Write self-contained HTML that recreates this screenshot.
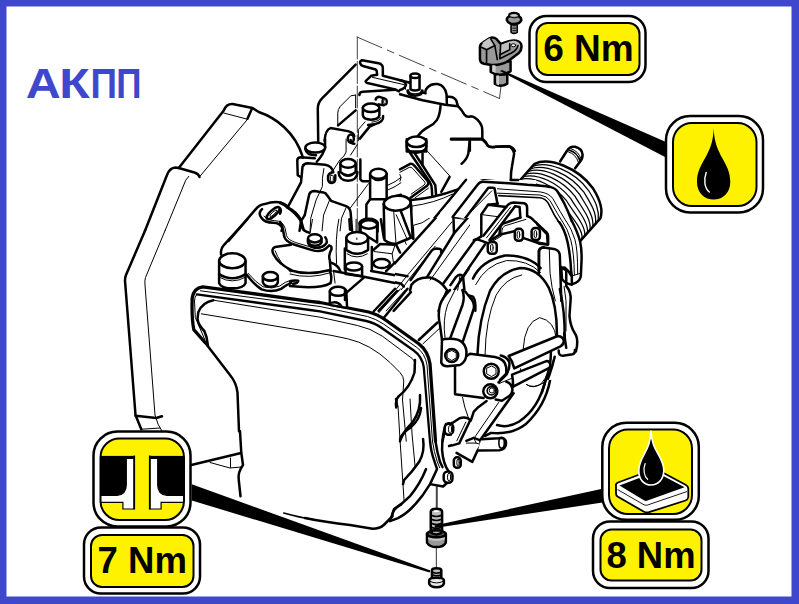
<!DOCTYPE html>
<html><head><meta charset="utf-8"><title>АКПП</title>
<style>
html,body{margin:0;padding:0;background:#3f48cc;}
body{width:799px;height:604px;overflow:hidden;font-family:"Liberation Sans",sans-serif;}
svg{display:block;position:absolute;left:0;top:0;}
.t{font-family:"Liberation Sans",sans-serif;font-weight:bold;}
#drawing path,#drawing ellipse,#drawing line,#drawing rect,#drawing circle,#drawing polyline,#drawing polygon{vector-effect:non-scaling-stroke;}
.k{stroke-width:2.5;}
.m{stroke-width:1.6;}
.n{stroke-width:1;}
.w{fill:#fff;}
.g{fill:#999;}
</style></head><body>
<svg width="799" height="604" viewBox="0 0 799 604">
<rect x="0" y="0" width="799" height="604" fill="#3f48cc"/>
<rect x="6.5" y="6.5" width="785" height="590" fill="#fff"/>
<text class="t" font-size="43" fill="#3f48cc" y="97.7"><tspan x="25.8" textLength="35" lengthAdjust="spacingAndGlyphs">А</tspan><tspan x="59.3" textLength="30.5" lengthAdjust="spacingAndGlyphs">К</tspan><tspan x="90.5" textLength="26.5" lengthAdjust="spacingAndGlyphs">П</tspan><tspan x="116.2" textLength="25.2" lengthAdjust="spacingAndGlyphs">П</tspan></text>

<!-- DRAWING -->
<g id="drawing" fill="none" stroke="#000" stroke-linecap="round" stroke-linejoin="round">
<!-- tiles/00_a_defs.svg -->
<defs>
<clipPath id="clipA"><path clip-rule="evenodd" d="M-100,-100 H900 V700 H-100 Z M395,218 L440,218 L440,213 L469,180 L536.1,180 L536.1,270 L470,270 L470,290 L395,290 Z"/></clipPath>
<clipPath id="clipB"><path clip-rule="evenodd" d="M-100,-100 H900 V700 H-100 Z M395,218 H470 V290 H395 Z"/></clipPath>
<clipPath id="clipBin"><rect x="395" y="218" width="75" height="72"/></clipPath>
<clipPath id="clipC"><path clip-rule="evenodd" d="M-100,-100 H900 V700 H-100 Z M452,380 H565 V472 H452 Z"/></clipPath>
<clipPath id="clipCin"><rect x="452" y="380" width="113" height="92"/></clipPath>
</defs>

<!-- tiles/00_dash.svg -->
<g class="n" stroke="#444">
<path d="M357.3,37 L357.3,240" stroke-dasharray="22 2.5 "/>
<path d="M357,37 L499.5,98.5" stroke-dasharray="27 6 7 6"/>
<path d="M499.5,98.5 L501,86"/>
</g>

<!-- tiles/00_rim.svg -->
<g id="rim">
<path class="k" style="stroke-width:3.3" d="M205,342.5 L193.8,329.6 Q191.5,318 192.2,298 Q193.5,288 202.8,286.8 L310,301.3 L320,302.5 L368.75,312 Q378,314.5 386.25,320.5 L418.75,343.75 Q428,351 430,363.75 L435.5,441.25"/>
<path class="n" d="M200.5,290.8 L310,305.2 L320,306.5 L367.5,316.5 Q376,319 383.5,324 L416.25,347 Q425,353 427,365 L432.5,441.25"/>
<path class="k" style="stroke-width:2.3" d="M196.8,294.3 L310,310 L320,311.4 L366.25,321 Q375,323 382.5,328.5 L413.75,350.5 Q422,356.5 423.75,367 L430,441.25"/>
<path class="n" d="M196.8,294.3 Q194.5,297 194.5,301 L195.3,317.5 L205,340"/>
<path class="n" d="M214,300.3 L310,315.6 L320,317.2 L357.5,325.5 Q370,328 382.5,336.25 L412.5,358.75 Q416.5,362.5 415,370"/>
<path class="k" d="M213.3,300.3 Q202,302.5 198.3,312.3 L197.5,319 Q198.3,325 204.3,331 L206.5,337 L208,346"/>
<path class="n" d="M201.3,313.8 L310,331.8 L331,335.3 L347.5,338.75 Q370,343.75 390,362.5 L400,372.5 Q403.75,376.25 403.75,381.25 L402.5,400 L406.25,441.25"/>
</g>

<!-- tiles/01_bell_top.svg -->
<g transform="translate(130,80) scale(0.25)">
<!-- bellhousing outer -->
<path class="k" d="M60,603 L148,380 Q158,352 182,350 L195,352 L375,122 Q385,95 410,96 L490,112 L515,128 C580,150 660,205 692,310"/>
<path class="k" d="M195,352 L258,370 Q275,376 278,388"/>
<path class="k" d="M488,114 L470,155"/>
<path class="n" d="M375,132 L470,157 L280,385"/>
<path class="n" d="M235,385 Q220,400 215,420 L140,603"/>
</g>

<!-- tiles/02.svg -->
<g transform="translate(290,50) scale(0.1502)">
<path class="k" d="M437,97 L215,320 Q185,350 185,390 L188,610"/>
<path class="k" d="M480,68 L590,88 Q618,95 618,120 L618,172 L799,218"/>
<path class="k" d="M480,68 Q462,72 468,90 Q470,102 485,106 L565,128 Q578,132 578,145 L580,165 L540,172 L505,205 Q500,215 515,220 L700,262 L725,275"/>
<path class="n" d="M548,182 L765,232 L770,262"/>
<path class="k" d="M462,300 Q462,280 485,278 L700,264"/>
<path class="n" d="M437,300 L405,305 L335,375 Q318,395 318,420 L318,500"/>
<path class="n" d="M437,300 L437,385"/>
<path class="k" d="M437,402 L320,502"/>
<!-- boss -->
<path class="k w" d="M485,385 L485,435 Q490,462 540,465 Q590,462 595,435 L595,385"/>
<ellipse class="k w" cx="540" cy="385" rx="55" ry="28"/>
<path class="k" d="M620,440 Q625,480 560,495 L520,500"/>
<path class="n" d="M605,450 Q600,475 545,480"/>
<!-- small bolt -->
<path class="k" d="M570,330 Q575,312 595,312 L628,322"/>
<path class="k" d="M590,362 L625,368"/>
<ellipse class="m w" cx="630" cy="345" rx="17" ry="22"/>
<ellipse class="n" cx="632" cy="345" rx="9" ry="15"/>
<path class="n" d="M500,478 L455,530 L455,605"/>
<path class="k" d="M560,497 L530,510 L465,590"/>
<!-- lug -->
<path class="k" d="M230,605 Q235,530 270,520 L385,540 Q425,548 428,575"/>
<ellipse class="k" cx="405" cy="590" rx="20" ry="28"/>
</g>

<!-- tiles/03.svg -->
<g transform="translate(400,60) scale(0.1502)">
<path class="k" d="M0,135 Q35,140 40,165 Q35,190 0,200"/>
<path class="k" d="M0,228 L150,268 L300,298 L385,308"/>
<!-- pin -->
<path class="k" d="M50,205 Q50,235 100,238 Q150,235 150,205"/>
<path class="m" d="M55,200 Q60,225 100,226 Q140,225 145,200"/>
<path class="k w" d="M70,105 L70,195 Q100,210 130,195 L130,105"/>
<ellipse class="k w" cx="100" cy="105" rx="30" ry="15"/>
<path class="k" d="M145,215 L170,222 Q165,200 185,180 Q210,155 250,160 Q300,170 310,230 L312,298"/>
<path class="k" d="M318,245 Q355,240 375,270 L385,305 Q410,330 430,365 Q445,385 470,375 Q500,375 530,415 Q550,440 548,480 L548,525 Q575,545 585,570 Q600,585 640,578 L720,575 Q745,575 765,605"/>
<path class="k" d="M340,525 L548,525"/>
<path class="k" d="M465,530 L465,605"/>
<path class="k" d="M270,305 Q265,370 245,400 Q225,430 190,445 Q150,465 120,505"/>
<path class="k w" d="M45,545 L45,610 L175,610 L175,545"/>
<ellipse class="k w" cx="110" cy="545" rx="65" ry="35"/>
</g>

<!-- tiles/04_sensor.svg -->
<g transform="translate(470,5) scale(0.1656)">
<!-- bolt -->
<path class="m g" d="M248,105 L248,165 Q265,178 285,165 L285,105 Z"/>
<path class="k g" d="M222,90 Q222,75 235,70 L240,55 Q265,42 292,55 L297,70 Q310,75 310,92 Q300,115 265,115 Q230,115 222,90 Z"/>
<path d="M238,62 Q265,50 292,62 Q265,74 238,62 Z" fill="#d0d0d0" stroke="none"/>
<path class="n" d="M240,72 Q265,85 295,72"/>
<path class="n" d="M258,125 L275,125 M258,140 L275,140 M258,155 L275,155"/>
<!-- sensor -->
<path class="k g" d="M150,420 L150,475 Q185,500 225,475 L225,420 Z"/>
<path class="k g" d="M125,350 L125,405 Q180,440 245,400 L245,340 Z"/>
<path class="k g" d="M60,255 Q60,235 80,225 L120,200 Q140,190 160,205 L185,235 L235,218 Q290,205 308,235 Q318,265 295,290 L235,335 Q190,365 130,362 L85,355 Q60,350 60,325 Z"/>
<path d="M68,252 L100,270 L150,245 L128,202 Q118,198 108,205 L80,225 Z" fill="#c4c4c4" stroke="none"/>
<path d="M188,240 L238,220 Q285,208 302,238 Q306,255 290,262 Q285,240 240,237 L240,270 L182,298 Z" fill="#bdbdbd" stroke="none"/>
<path d="M160,425 L175,425 L175,485 L160,480 Z M135,362 L155,365 L155,410 L135,402 Z" fill="#cfcfcf" stroke="none"/>
<path class="m" d="M70,255 L100,270 L150,245 L125,205"/>
<path class="m" d="M100,270 L100,350"/>
<path class="m" d="M150,245 L165,330"/>
<path class="m" d="M185,240 L180,325 L250,290 Q285,270 290,245"/>
<path class="m" d="M180,300 L240,270 L240,235"/>
<ellipse class="n w" cx="262" cy="243" rx="14" ry="9"/>
</g>

<!-- tiles/05.svg -->
<g clip-path="url(#clipB)">
<g transform="translate(280,140) scale(0.1502)">
<!-- top-left boss -->
<path class="k" d="M300,-5 L300,50 Q290,95 245,145"/>
<path class="k" d="M168,58 Q175,100 240,102"/>
<ellipse class="k w" cx="235" cy="50" rx="66" ry="33"/>
<!-- small block -->
<path class="k" d="M232,122 L135,115 Q115,118 115,138 L118,235 L140,248"/>
<path class="n" d="M150,165 L146,240"/>
<!-- bracket -->
<path class="k" d="M50,450 L140,282 L150,178 Q160,155 185,155 L300,165 Q345,172 355,215 Q330,215 320,240 L320,265 Q325,290 350,285 Q370,280 368,255 L368,235"/>
<rect class="n" x="335" y="235" width="20" height="40" rx="6"/>
<path class="n" d="M292,190 Q278,260 282,310 L240,400 L205,520 L200,605"/>
<path class="n" d="M330,400 L290,500 L280,605"/>
<path class="n" d="M440,450 L410,520 L400,605"/>
<path class="k" d="M165,500 L195,360 Q205,340 230,340 L290,350 Q305,352 315,370 L340,405 L440,440 Q465,450 470,480 L480,605"/>
<path class="k" d="M0,420 Q30,430 50,450 Q100,480 140,540 L165,500"/>
<path class="k" d="M140,540 L130,605"/>
<path class="k" d="M0,455 Q12,470 0,490"/>
<path class="k" d="M0,545 Q25,570 10,605"/>
<!-- center cylinder -->
<path class="n" d="M440,-5 L440,80 Q430,110 400,130 L355,200"/>
<path class="n" d="M515,30 L470,100"/>
<path class="k" d="M470,0 Q470,25 495,25"/>
<path class="k" d="M390,215 Q392,268 453,272 Q514,268 516,215"/>
<path class="k w" d="M402,156 L402,212 Q453,262 504,212 L504,156"/>
<ellipse class="k w" cx="453" cy="156" rx="51" ry="29"/>
<path class="k" d="M535,130 L535,260 Q540,275 560,275 L600,275"/>
<!-- right cylinder -->
<path class="k w" d="M600,225 L600,395 L710,395 L710,225"/>
<ellipse class="k w" cx="655" cy="225" rx="55" ry="33"/>
<path class="m" d="M610,250 Q650,285 700,255"/>
<path class="k" d="M600,395 L575,430 L575,530"/>
<path class="n" d="M590,290 L470,450"/>
<path class="n" d="M720,300 Q770,280 805,250"/>
<path class="n" d="M720,332 Q770,312 805,285"/>
<path class="k" d="M700,425 Q740,380 805,365"/>
<path class="n" d="M700,425 L700,605"/>
<path class="n" d="M760,480 L785,570"/>
<!-- bottom cylinder -->
<path class="k w" d="M530,555 L530,610 L650,610 L650,555"/>
<ellipse class="k w" cx="590" cy="555" rx="60" ry="30"/>
</g>
</g>

<!-- tiles/06.svg -->
<g clip-path="url(#clipA)">
<g transform="translate(400,140) scale(0.1502)">
<path class="k" d="M45,-5 L45,50 Q60,85 110,85 Q160,80 175,50 L175,-5"/>
<path class="m" d="M55,28 Q100,65 165,28"/>
<path class="k" d="M62,78 L195,275 Q212,300 212,330 L215,375"/>
<path class="k" d="M100,92 L150,168 L150,90"/>
<path class="k" d="M150,168 L235,300 L240,365"/>
<path class="n" d="M178,70 L330,238"/>
<path class="k" d="M330,245 L275,345"/>
<path class="k" d="M0,195 L65,160 Q80,155 95,170 L185,275 Q195,290 180,305 L70,385"/>
<path class="n" d="M0,215 L62,182 Q75,178 85,190 L165,280 Q172,290 160,300 L75,360"/>
<path class="n" d="M0,230 Q15,250 0,275"/>
<path class="n" d="M190,320 L100,385"/>
<path class="k" d="M0,370 Q50,375 70,410 L75,450 L60,605"/>
<path class="k" d="M20,480 L50,605"/>
<path class="k" d="M75,400 Q230,385 380,330"/>
<path class="n" d="M80,440 Q230,420 350,360"/>
<path class="k" d="M440,265 L160,605"/>
<path class="n" d="M90,572 Q150,562 200,540"/>
<path class="k" d="M340,-3 L548,-3"/>
<path class="k" d="M465,-3 L455,90 Q445,130 410,158"/>
<path class="k" d="M548,-3 Q575,20 585,40 Q600,50 640,45 L720,42 Q750,50 760,90 L745,180 Q735,230 740,275"/>
<path class="k" d="M805,290 L560,268 Q535,268 520,285 L355,510 L355,605"/>
<path class="k" d="M805,348 L600,318 Q585,318 575,332 L372,605"/>
<path class="k" d="M640,335 L655,420"/>
<path class="k" d="M545,605 L545,500 L590,435 L660,420 L805,440"/>
<path class="n" d="M640,340 L480,560"/>
<path class="n" d="M660,362 L805,382"/>
<path class="n" d="M355,510 L470,530 L480,605"/>
<path class="n" d="M545,500 L640,520"/>
<path class="k" d="M805,405 L745,415 L600,605"/>
<path class="n" d="M805,455 L730,470 L640,590"/>
<path class="k" d="M805,540 L705,570 L680,605"/>
<path class="n" d="M340,540 L290,605"/>
</g>
</g>

<!-- tiles/07.svg -->
<g clip-path="url(#clipA)">
<g transform="translate(500,130) scale(0.1502)">
<path class="k" d="M120,350 L230,225 C330,180 520,250 620,390 C670,470 685,540 668,588 L535,738"/>
<path class="m" style="stroke-width:1.25" d="M216,242 C314,202 493,270 590,403 C638,480 662,530 654,600"/>
<path class="m" style="stroke-width:1.25" d="M202,259 C299,224 465,289 560,416 C605,491 644,550 636,620"/>
<path class="m" style="stroke-width:1.25" d="M189,275 C283,246 438,308 530,429 C572,501 626,570 618,640"/>
<path class="m" style="stroke-width:1.25" d="M175,292 C268,268 411,328 500,442 C540,512 608,590 600,660"/>
<path class="m" style="stroke-width:1.25" d="M161,309 C252,290 384,348 470,455 C508,522 590,610 582,680"/>
<path class="m" style="stroke-width:1.25" d="M147,326 C236,313 356,367 441,468 C475,532 572,630 564,700"/>
<path class="m" style="stroke-width:1.25" d="M134,342 C221,335 329,386 411,481 C442,543 554,650 546,720"/>

<path class="k w" d="M400,210 L445,140 Q465,105 500,112 Q548,125 550,165 Q550,195 530,215 L500,255"/>
<path class="m" d="M462,135 Q515,150 532,205"/>
<path class="n" d="M472,125 Q525,140 540,195"/>
<path class="n" d="M455,145 Q505,160 522,215"/>
</g>
</g>

<!-- tiles/08.svg -->
<g transform="translate(170,220) scale(0.1502)">
<path class="k" d="M515,-5 L360,165 Q335,195 340,230"/>
<path class="k w" d="M327,275 L327,420 Q340,455 415,455 Q490,455 503,420 L503,275"/>
<ellipse class="k w" cx="415" cy="272" rx="88" ry="50"/>
<path class="k" d="M327,360 Q415,415 503,360"/>
<path class="n" d="M327,380 Q415,432 503,380"/>
<path class="n" d="M335,290 Q415,350 495,290"/>
<path class="k" d="M805,165 L700,180 Q670,190 690,230 Q720,290 805,332"/>
<path class="n" d="M700,205 Q725,280 805,348"/>
<path class="k w" d="M618,375 L618,415 Q630,445 668,445 Q710,445 718,415 L718,375"/>
<ellipse class="k w" cx="668" cy="375" rx="50" ry="28"/>
<path class="n" d="M625,395 Q668,425 712,395"/>
<path class="k" d="M510,365 Q560,430 610,462 Q680,485 740,458 Q770,432 805,420"/>
<path class="n" d="M520,355 Q570,415 620,445 Q680,462 730,440 Q765,412 805,400"/>
</g>

<!-- tiles/09.svg -->
<g transform="translate(200,150) scale(0.1502)">
<path class="k" d="M190,605 L370,395 Q395,365 430,360 Q490,340 540,350 Q580,365 590,385 Q640,410 670,460 L690,530"/>
<g transform="rotate(-42 487 420)"><ellipse class="k" cx="487" cy="420" rx="55" ry="20"/><ellipse class="n" cx="487" cy="422" rx="30" ry="8"/></g>
</g>

<!-- tiles/09b_arm.svg -->
<g transform="translate(200,170) scale(0.21533)">
<path class="k" d="M288,182 Q268,200 285,222 Q300,245 340,245 Q375,245 385,275 L392,312 Q400,335 440,347 L520,372 Q565,385 588,362 L600,350 Q614,352 610,370 Q595,395 603,420 L607,470"/>
<path class="n" d="M297,214 Q312,234 345,235 Q385,236 395,270 L402,305 Q410,326 445,337 L522,360 Q560,372 582,350"/>
</g>

<!-- tiles/10.svg -->
<g clip-path="url(#clipB)">
<g transform="translate(290,220) scale(0.1502)">
<path class="k" d="M70,-5 L80,50 Q90,75 130,85"/>
<path class="n" d="M150,-5 L135,80"/>
<path class="n" d="M325,-5 Q300,120 310,290"/>
<!-- small boss -->
<path class="k" d="M120,130 Q115,175 165,185 Q225,185 245,150 Q248,130 235,115"/>
<path class="k w" d="M120,125 L120,150 Q135,172 165,172 Q200,170 210,150 L210,125"/>
<ellipse class="k w" cx="165" cy="122" rx="45" ry="27"/>
<path class="k" d="M0,335 Q120,372 260,335"/>
<path class="n" d="M0,360 Q130,395 265,352"/>
<path class="k" d="M265,340 Q282,380 270,420 Q200,462 0,440"/>
<path class="k" d="M0,412 Q20,400 55,405 Q50,422 20,425"/>
<path class="k" d="M275,285 Q320,300 335,340"/>
<path class="n" d="M290,340 L300,420"/>
<!-- back cylinder -->
<path class="k w" d="M470,30 L470,80 L580,150 L580,30"/>
<ellipse class="k w" cx="525" cy="30" rx="55" ry="28"/>
<path class="k" d="M395,-5 L400,65"/>
<!-- central cylinder -->
<path class="k w" d="M365,190 L365,335 L545,335 L545,180 Z" stroke="none"/>
<path class="k" d="M365,190 L365,330 M545,180 L545,330"/>
<path class="k w" d="M375,120 L375,200 Q445,250 520,200 L520,120"/>
<ellipse class="k w" cx="447" cy="120" rx="72" ry="40"/>
<path class="n" d="M380,225 Q445,268 515,225"/>
<path class="n" d="M440,-5 L440,78 M445,120 L445,130"/>
<!-- front small cylinder -->
<path class="k w" d="M370,310 L370,360 L480,375 L480,310"/>
<ellipse class="k w" cx="425" cy="310" rx="55" ry="27"/>
<ellipse class="k" cx="610" cy="290" rx="55" ry="30"/>
<path class="n" d="M565,305 Q610,335 655,305"/>
<!-- hex block -->
<path class="k" d="M555,200 L600,160 L700,165 L735,215"/>
<path class="n" d="M560,210 L680,225 L700,165 M680,225 L690,290"/>
<path class="k" d="M605,-5 L625,120 L700,160"/>
<path class="n" d="M650,-5 L670,110"/>
<path class="k" d="M715,-5 L770,140"/>
<path class="k" d="M805,180 L640,340"/>
<!-- floor -->
<path class="k" d="M290,340 L500,380 L740,428 Q752,438 735,446"/>
<path class="k" d="M540,340 L805,386"/>
<path class="k" d="M490,385 L380,480"/>
<path class="k" d="M590,605 L780,400"/>
<path class="n" d="M640,605 L805,425"/>
<path class="k" d="M690,605 L805,480"/>
<path class="n" d="M735,446 L610,580"/>
<!-- bottom-left cylinder -->
<path class="k w" d="M265,475 L265,565 L380,585 L375,475"/>
<ellipse class="k w" cx="320" cy="475" rx="55" ry="30"/>
<path class="k" d="M280,550 Q320,540 345,578"/>
</g>
</g>

<!-- tiles/11.svg -->
<g clip-path="url(#clipA)">
<g transform="translate(410,220) scale(0.1502)">
<path class="k" d="M130,-5 L0,160"/>
<path class="n" d="M60,-5 L0,60"/>
<path class="k" d="M360,-5 L165,190 Q150,185 135,205 L0,350"/>
<path class="k" d="M165,190 L210,200 L60,385"/>
<path class="n" d="M275,-5 L0,320"/>
<path class="n" d="M410,-5 L150,365"/>
<path class="k" d="M290,-5 L290,70"/>
<path class="k" d="M470,-5 L470,110 L445,125 L215,425"/>
<path class="k" d="M470,110 L560,-5"/>
<path class="k" d="M445,125 L515,135"/>
<path class="n" d="M500,165 L350,360"/>
<rect class="k" x="515" y="145" width="62" height="75" rx="22"/>
<ellipse class="n" cx="548" cy="182" rx="10" ry="25"/>
<rect class="k" x="700" y="65" width="50" height="72" rx="20"/>
<ellipse class="n" cx="728" cy="100" rx="8" ry="22"/>
<path class="k" d="M755,72 Q790,75 790,130"/>
<path class="k" d="M520,135 L590,100 Q600,60 640,40 L805,-2"/>
<path class="n" d="M565,140 L700,88"/>
<path class="n" d="M605,110 Q615,70 650,55 L805,20"/>
<path class="k" d="M0,400 L20,420 Q60,370 120,385 Q200,400 250,460 L190,605"/>
<path class="k" d="M20,420 L0,470"/>
<path class="n" d="M265,470 L215,605"/>
<path class="k" d="M265,460 L310,385 Q340,355 350,390 L350,490 L420,510 Q440,540 435,605"/>
<path class="n" d="M330,395 L290,605"/>
<path class="n" d="M415,515 L400,605"/>
</g>
</g>

<!-- tiles/12.svg -->
<g clip-path="url(#clipA)">
<g transform="translate(520,210) scale(0.1502)">
<path class="k w" d="M344,70 Q385,150 400,210 Q412,260 410,330 L405,440 Q400,470 370,485 L345,495 L345,440 L340,400 Q335,300 318,220 Q300,130 254,70"/>
<path class="n" d="M279,70 Q320,130 338,200 Q360,280 362,432"/>
<path class="n" d="M305,70 Q345,125 365,195 Q385,260 384,427"/>
<path class="k" d="M275,395 Q280,380 300,385 L325,410 Q335,430 345,440"/>
<path class="k" d="M275,395 L280,460 Q300,490 345,497"/>
<path class="n" d="M345,440 L405,420"/>
<!-- boss w/ bolt -->
<path class="k" d="M0,75 L60,55 Q90,60 110,90 L180,160 L185,230 L130,225 L85,200"/>
<path class="k" d="M0,120 L70,125"/>
<ellipse class="k w" cx="105" cy="160" rx="22" ry="36"/>
<ellipse class="n" cx="108" cy="160" rx="10" ry="24"/>
<path class="k" d="M0,128 Q22,165 0,205"/>
<path class="k" d="M45,-5 L45,40"/>
<!-- bar -->
<path class="k w" d="M125,430 L125,275 Q130,250 160,250 L235,262 Q262,270 265,300 L275,605"/>
<path class="n" d="M195,260 L200,420 Q210,520 235,605"/>
</g>
</g>

<!-- tiles/13.svg -->
<g clip-path="url(#clipB)">
<g transform="translate(440,180) scale(0.1502)">
<path class="k" d="M285,12 Q262,14 250,32 L85,245 L92,335 L100,345 L322,52 L362,52 L382,155"/>
<path class="n" d="M88,248 L160,258 L100,345"/>
<path class="n" d="M160,258 L345,72"/>
<path class="k" d="M470,0 L520,0"/>
<path class="k" d="M92,335 L0,445"/>
<path class="n" d="M165,300 L0,500"/>
<!-- second box -->
<path class="k" d="M275,375 L275,230 L320,165 L440,180"/>
<path class="n" d="M275,230 L390,245"/>
<path class="k" d="M320,165 L385,158"/>
<path class="k" d="M440,180 Q460,150 490,150 L560,155 Q580,160 580,185 L580,240"/>
<path class="k" d="M440,180 L290,370"/>
<path class="k" d="M500,175 L530,180 L535,250"/>
<path class="k" d="M500,175 L330,400"/>
<path class="n" d="M470,180 L310,385"/>
<!-- bracket -->
<path class="k" d="M580,240 Q610,250 620,265 L700,340 Q720,355 720,380 L720,430 L640,415 L552,385"/>
<path class="k" d="M535,250 L420,290 Q400,300 400,330 L395,365 L340,400"/>
<path class="n" d="M572,262 L432,305 Q412,315 412,340 L410,372 L355,405"/>
<path class="k" d="M395,365 L500,340"/>
<rect class="k w" x="498" y="325" width="54" height="80" rx="22"/>
<ellipse class="n" cx="522" cy="365" rx="9" ry="26"/>
<rect class="k w" x="610" y="320" width="55" height="80" rx="22"/>
<ellipse class="n" cx="635" cy="360" rx="9" ry="26"/>
<rect class="k w" x="318" y="413" width="60" height="78" rx="22"/>
<ellipse class="n" cx="345" cy="452" rx="9" ry="26"/>
<!-- lower-left housing -->
<path class="k" d="M275,375 L233,400 L83,605"/>
<path class="k" d="M225,400 Q235,395 250,395 L318,420"/>
<path class="k" d="M178,605 L300,428"/>
<path class="k" d="M660,605 L660,470 Q665,450 690,448"/>
</g>
</g>

<!-- tiles/14.svg -->
<g transform="translate(130,280) scale(0.25)">
<!-- bell left edge -->
<path class="k" d="M60,-197 L-16,-20 Q-22,-5 -19,15 L22,540 L45,597"/>
<path class="k" d="M22,543 L105,552 L128,545"/>
<path class="n" d="M140,-197 L62,-10 Q58,2 60,20 L100,540 Q110,580 128,605"/>
<path class="n" d="M45,597 L120,592"/>
<!-- pan left -->
<path class="k" d="M300,250 L400,380 Q425,410 430,450 L436,605"/>
</g>

<!-- tiles/15.svg -->
<g clip-path="url(#clipC)">
<g transform="translate(320,290) scale(0.25)">
<path class="k" d="M380,280 L378,330 Q360,390 315,425 Q300,440 305,470"/>
<path class="k" d="M400,420 Q405,480 370,530 Q330,570 320,605"/>
<path class="k" d="M300,-5 L215,85"/>
<path class="n" d="M322,-5 L235,92"/>
<path class="k" d="M350,-5 L258,108"/>
<path class="k" d="M470,130 L395,200"/>
<path class="n" d="M482,150 L412,215"/>
<!-- bracket -->
<path class="k w" d="M520,0 Q490,30 480,60 Q470,100 480,140 L488,200 L485,290 Q490,305 510,305 L560,300 Q580,290 585,265 Q590,230 570,210 L615,75 Q620,50 600,30 L580,5"/>
<path class="k" d="M488,200 Q495,195 520,195 Q555,195 570,210"/>
<path class="k" d="M520,195 L570,60 Q580,30 570,0"/>
<path class="n" d="M500,190 Q490,120 510,60 L540,0"/>
<circle class="k" cx="527" cy="262" r="26"/>
<path class="n" d="M510,250 L527,242 L545,252 L545,272 L527,282 L510,272 Z"/>
<!-- plate -->
<path class="k" d="M540,305 L540,415 L650,435"/>
<path class="k" d="M585,265 L600,255 L700,268 Q740,275 745,310 L745,335 L720,360 L745,385 Q750,410 735,425 L700,440 L650,435"/>
<circle class="k w" cx="685" cy="325" r="30"/>
<path class="n" d="M668,312 L686,304 L704,314 L704,336 L686,346 L668,336 Z"/>
<circle class="k w" cx="690" cy="405" r="30"/>
<path class="n" d="M673,392 L691,384 L709,394 L709,416 L691,426 L673,416 Z"/>
<path class="k" d="M660,445 Q620,480 600,510 L590,605"/>
<path class="k" d="M600,510 L560,515 Q520,530 500,560 L490,605"/>
<ellipse class="k w" cx="515" cy="555" rx="13" ry="22"/>
<path class="k" d="M805,490 L700,545 L690,605"/>
<path class="n" d="M620,605 L700,460"/>
<path class="n" d="M700,572 Q760,560 805,540"/>
<!-- top-left small cyl bottom -->
<path class="k" d="M100,40 L100,0"/>
</g>
</g>

<!-- tiles/16.svg -->
<g clip-path="url(#clipC)">
<g transform="translate(480,280) scale(0.18773)">
<!-- rods -->
</g>
</g>

<!-- tiles/17_cover.svg -->
<g clip-path="url(#clipC)">
<g transform="translate(400,220) scale(0.3004)">
<path class="k" d="M243,195 Q270,135 350,118 Q430,118 468,160"/>
<path class="k" d="M532,230 Q550,310 548,392"/>
<path class="n" d="M252,215 Q285,150 355,135 Q425,132 468,175"/>
<path class="k" d="M258,445 Q262,330 300,235 Q335,170 400,160 Q460,160 495,225 Q525,290 522,395"/>
<path class="k" d="M515,455 Q500,520 470,580"/>
<path class="n" d="M283,450 Q285,330 320,250 Q350,195 405,183"/>
<path class="n" d="M410,430 Q415,340 465,325 Q515,335 520,395"/>
<path class="n" d="M425,540 Q440,570 465,560 Q500,530 512,460"/>
</g>
</g>

<!-- tiles/18.svg -->
<g clip-path="url(#clipC)">
<g transform="translate(380,400) scale(0.20025)">
<path class="k" d="M277,206 Q285,260 300,310 L312,335"/>
<path class="n" d="M262,206 Q270,260 285,305 L298,338"/>
<path class="k" d="M250,206 Q255,260 270,300 L285,345 L250,420 L210,480 Q150,560 90,590 L50,605"/>
<path class="k" d="M215,195 Q225,260 195,310 Q160,360 120,400 L115,420"/>
<path class="k" d="M230,345 Q200,420 150,480 Q110,520 70,545 L55,590"/>
<path class="k" d="M205,40 Q200,100 150,140 Q110,165 100,195"/>
<path class="k" d="M80,-5 L85,30"/>
<path class="n" d="M90,30 L100,200 L120,500"/>
<path class="n" d="M150,-5 L160,170 L175,330"/>
<path class="k" d="M250,420 L315,432 L337,412"/>
<path class="n" d="M285,430 L285,545"/>
<!-- flange -->
<path class="k" d="M330,120 Q310,170 310,250 Q315,320 345,360"/>
<path class="k" d="M365,115 Q400,85 430,95 L445,100 L475,45 Q500,20 530,15 L565,-5"/>
<path class="k" d="M430,95 L395,215 L345,230"/>
<path class="n" d="M442,110 L407,220"/>
<path class="k" d="M395,215 L440,200 L480,195 L510,225 L500,260 L460,305 L385,265"/>
<path class="n" d="M440,200 L465,225 L505,225"/>
<path class="k" d="M480,195 L612,-5"/>
<path class="n" d="M492,205 L565,90"/>
<rect class="k w" x="323" y="118" width="44" height="56" rx="20"/>
<ellipse class="n" cx="350" cy="146" rx="8" ry="20"/>
<rect class="k w" x="368" y="292" width="44" height="56" rx="20"/>
<ellipse class="n" cx="395" cy="320" rx="8" ry="20"/>
<rect class="k w" x="318" y="357" width="44" height="56" rx="20"/>
<ellipse class="n" cx="345" cy="385" rx="8" ry="20"/>
<path class="k w" d="M520,185 L590,190 Q600,175 620,180 Q640,190 635,225 Q625,245 600,240 L515,240"/>
<ellipse class="n" cx="610" cy="210" rx="11" ry="22"/>
<path class="k" d="M560,0 Q600,40 680,50 Q750,45 805,8"/>
<path class="k" d="M590,120 Q660,130 720,100 Q770,70 805,28"/>
<path class="n" d="M600,142 Q680,150 750,110"/>
<path class="n" d="M415,-5 L440,90"/>
</g>
</g>

<!-- tiles/19.svg -->
<g transform="translate(200,400) scale(0.25)">
<path class="k" d="M160,125 L165,210 L172,260 Q150,290 155,320 L162,385"/>
<path class="k" d="M-35,260 L160,213"/>
<path class="n" d="M40,250 L120,272 L166,268"/>
<path class="n" d="M122,232 L122,270"/>
<path class="m" d="M335,452 Q400,470 450,478"/>
<path class="k" d="M420,472 Q500,488 600,500 L690,515 Q720,515 735,500 L770,465 Q765,440 805,418"/>
</g>
<!-- small parts bottom -->
<g transform="translate(400,480) scale(0.19851)">
<path class="n" stroke="#333" d="M183,30 L183,150 M183,338 L183,440"/>
<!-- stud -->
<path class="k" fill="#bdbdbd" d="M155,160 Q155,145 183,145 Q212,145 212,160 L212,262 L155,262 Z"/>
<path class="m" d="M157,178 Q183,190 210,178 M157,198 Q183,210 210,198 M157,218 Q183,230 210,218 M157,238 Q183,250 210,238"/>
<ellipse cx="183" cy="158" rx="14" ry="5" fill="#fff" stroke="none"/>
<!-- nut -->
<path class="k g" d="M136,272 L136,315 Q150,338 183,338 Q218,338 231,315 L231,272 Z"/>
<path fill="#c8c8c8" stroke="none" d="M142,288 Q183,305 226,288 L226,298 Q183,315 142,298 Z"/>
<ellipse class="k" fill="#555" cx="183.5" cy="272" rx="47.5" ry="17"/>
<path class="k" fill="#bdbdbd" d="M160,268 L160,255 L207,255 L207,268 Q183,280 160,268 Z" stroke-width="1"/>
<!-- bolt -->
<path class="k" fill="#bdbdbd" d="M161,455 Q161,445 184,445 Q208,445 208,455 L208,495 L161,495 Z"/>
<path class="m" d="M163,465 Q184,474 206,465 M163,478 Q184,487 206,478"/>
<path class="k" fill="#e8e8e8" d="M147,505 Q147,492 184,492 Q221,492 221,505 L221,522 Q215,540 184,540 Q153,540 147,522 Z"/>
<path class="n" d="M150,510 Q184,528 218,510"/>
</g>

<!-- tiles/20_band.svg -->
<g transform="translate(490,170) scale(0.12516)">
<path class="k w" d="M-57,94 L150,105 L300,118 Q420,125 480,135 Q525,145 545,180 L590,260 Q625,330 652,407 L545,407 L520,370 L465,265 Q440,228 400,222 L70,205 L62,150 L50,140 Z" stroke="none"/>
<path class="k" d="M-57,94 L150,105 L300,118 Q420,125 480,135 Q525,145 545,180 L590,260 Q625,330 652,407"/>
<path class="n" d="M60,150 L400,175 Q470,185 500,225 L560,330 L606,407"/>
<path class="n" d="M60,185 L400,200 Q455,208 480,245 L540,350 L575,407"/>
<path class="m" d="M70,205 L400,222 Q440,228 465,265 L520,370 L545,407"/>
</g>

<!-- tiles/21_mid.svg -->
<g clip-path="url(#clipBin)"><g transform="translate(380,215) scale(0.12516)">
<path class="k" d="M470,-5 L70,440"/>
<path class="k" d="M190,0 L265,190"/>
<path class="k" d="M232,0 L262,100 L266,185"/>
<path class="n" d="M120,30 L210,235"/>
<path class="n" d="M270,82 Q340,72 400,22"/>
<path class="k" d="M45,160 L60,200 L125,230 L160,300"/>
<path class="k" d="M0,225 L110,240 L125,230"/>
<path class="k" d="M0,450 L220,490"/>
<path class="k" d="M0,510 L170,550 L190,572"/>
<path class="n" d="M575,55 L222,478 L120,605"/>
<path class="n" d="M440,250 L245,495 L165,605"/>
<path class="k" d="M245,520 L412,285 Q425,268 450,268 L480,272 Q498,280 488,296"/>
<path class="k" d="M591,148 L378,492"/>
<path class="k" d="M587,20 L591,148 L720,0"/>
<path class="n" d="M600,25 L690,35"/>
<path class="n" d="M775,0 L430,480 L400,520"/>
<path class="k" d="M805,178 L760,198 L503,552"/>
<path class="n" d="M843,212 L663,480 L640,512"/>
<path class="k" d="M563,560 L607,496 Q640,464 663,488 L675,605"/>
<path class="n" d="M640,480 L620,605"/>
<path class="k" d="M805,285 L590,605"/>
<path class="k" d="M240,605 L250,560 Q300,490 400,500 Q480,520 535,600"/>
</g></g>

<!-- tiles/22_lr.svg -->
<g clip-path="url(#clipCin)"><g transform="translate(440,380) scale(0.1502)">
<path class="k" d="M100,-10 L100,95 L290,120"/>
<path class="n" d="M150,115 L165,180 L190,255"/>
<!-- cover crescent -->
<path class="k" d="M735,-10 Q705,170 570,295 Q480,365 340,352 L300,372"/>
<path class="k" d="M705,-10 Q660,190 525,278 Q450,322 380,300"/>
<path class="n" d="M575,30 Q620,62 692,18"/>
<!-- rod -->
<!-- bolt 2 -->
<circle class="k w" cx="335" cy="75" r="47"/>
<circle class="m" cx="342" cy="72" r="28"/>
<circle class="n" cx="345" cy="70" r="17"/>
<!-- leg -->
<path class="k" d="M490,88 L268,400"/>
<path class="n" d="M390,150 L232,380"/>
<path class="k" d="M310,140 L250,185 L225,210 L205,270 L185,255 Q160,245 130,255 L85,285"/>
<path class="k" d="M198,275 L128,422 L65,440"/>
<path class="n" d="M172,280 L112,405"/>
<!-- block -->
<path class="k w" d="M175,405 L225,385 L265,400 L275,430 L250,470 L215,545 L110,485"/>
<path class="n" d="M225,385 L240,420 L275,430 M175,420 L240,420"/>
<!-- cylinder rod -->
<path class="k w" d="M275,395 L390,388 Q440,378 440,420 Q440,462 395,468 L252,470"/>
<ellipse class="m" cx="410" cy="418" rx="18" ry="36"/>
<!-- bolts -->
<rect class="k w" x="42" y="292" width="46" height="66" rx="21"/>
<ellipse class="n" cx="70" cy="325" rx="8" ry="24"/>
<rect class="k w" x="92" y="515" width="46" height="70" rx="21"/>
<ellipse class="n" cx="120" cy="550" rx="8" ry="24"/>
<path class="k" d="M20,355 Q10,450 40,540 L60,605"/>
</g></g>

<!-- tiles/23_rods.svg -->
<g transform="translate(485,325) scale(0.11264)">
<path class="k" d="M585,240 Q585,340 560,420 L505,600"/>
<path class="n" d="M370,530 Q430,572 500,520 Q540,472 555,430"/>
<path class="k w" d="M210,275 L640,100 Q690,95 700,140 Q700,175 670,190 L260,385 Q245,320 210,275 Z"/>
<path class="k w" d="M240,440 L545,320 Q575,320 580,350 L575,378 L250,548 Q250,490 240,440 Z"/>
<path class="k" d="M140,270 Q200,285 215,330 Q225,380 190,440 L120,510"/>
<path class="n" d="M125,520 L245,470"/>
<path class="n" d="M315,388 L320,410"/>
<path class="k w" d="M190,505 Q230,515 242,560 Q250,600 215,630 L150,672 L95,662"/>
</g>

<!-- tiles/24_cyl.svg -->
<g>
<path class="k w" d="M383.7,204 L384.5,240 Q390,244.5 397,243.5 L412.6,237 L410.8,203 Z"/>
<ellipse class="k w" cx="397.2" cy="203.2" rx="13.4" ry="7.4" transform="rotate(-4 397.2 203.2)"/>
<path class="n" d="M393.7,211.3 L396,243.5"/>
<path class="k" d="M400.7,210.7 L410.5,236.8"/>
<path class="n" d="M396.2,214.8 L407.5,240"/>
</g>

<!-- tiles/25_strip.svg -->
<g transform="translate(520,230) scale(0.21505)">
<path class="k" d="M187,170 L215,188 L215,260 Q240,290 235,330 L230,400 Q235,450 255,480 Q270,500 265,540 L260,565"/>
<path class="n" d="M205,262 L214,330 L214,470"/>
<path class="k w" d="M180,560 Q178,585 200,585 L245,578 Q258,572 255,558"/>
<path class="k" d="M205,480 L215,548"/>
</g>

</g>

<!-- wedges -->
<polygon points="500,71 502,70 666,142 666,157.5" fill="#000"/>
<polygon points="191.8,484.3 430.5,570.5 429.5,572.5 191.8,500.5" fill="#000"/>
<polygon points="434.6,525.4 602.4,488.7 602.4,502.5 434.9,528" fill="#000"/>

<!-- 6 Nm badge -->
<rect x="529.5" y="16" width="116" height="66" rx="17" fill="#fff" stroke="#000" stroke-width="2.5"/>
<rect x="536.5" y="23" width="103" height="52" rx="11" fill="#fff200" stroke="#000" stroke-width="2"/>
<text class="t" x="543.2" y="61" font-size="36.2" textLength="90.5" lengthAdjust="spacingAndGlyphs">6 Nm</text>

<!-- oil drop badge -->
<rect x="666" y="116" width="97" height="96.5" rx="24" fill="#fff" stroke="#000" stroke-width="2.5"/>
<rect x="673" y="123" width="83.5" height="83" rx="19" fill="#fff200" stroke="#000" stroke-width="2"/>
<path d="M713.7,128 C714.2,156 730.5,162 730.3,182 C730.2,193 722.5,199.6 713.7,199.6 C704.8,199.6 697,193 697,182 C697,162 713.2,156 713.7,128 Z" fill="#000"/>
<path d="M706.2,172.5 C703.5,180 704.5,188 709.3,192" fill="none" stroke="#fff" stroke-width="1.4" stroke-linecap="round"/>

<!-- press icon badge -->
<rect x="93.5" y="431.5" width="97" height="95" rx="24" fill="#fff" stroke="#000" stroke-width="2.5"/>
<clipPath id="cpPress"><rect x="100.5" y="438.5" width="83.5" height="81.5" rx="19"/></clipPath>
<rect x="100.5" y="438.5" width="83.5" height="81.5" rx="19" fill="#fff200"/>
<g clip-path="url(#cpPress)">
<rect x="98" y="455.9" width="90" height="39.6" fill="#000"/>
<path d="M98,495.5 L117,495.5 Q126.3,494.5 126.3,485 L126.3,458.4 L134,458.4 L134,509 L122.9,509 L122.9,502.3 L98,502.3 Z" fill="#fff" stroke="#000" stroke-width="1.2"/>
<path d="M186,495.5 L167,495.5 Q157.7,494.5 157.7,485 L157.7,458.4 L150,458.4 L150,509 L161.1,509 L161.1,502.3 L186,502.3 Z" fill="#fff" stroke="#000" stroke-width="1.2"/>
<rect x="134.6" y="450" width="14.8" height="62" fill="#fff200"/>
<path d="M134.3,455.5 L134.3,509.5 M149.7,455.5 L149.7,509.5" stroke="#000" stroke-width="1.6" fill="none"/>
</g>
<rect x="100.5" y="438.5" width="83.5" height="81.5" rx="19" fill="none" stroke="#000" stroke-width="2"/>

<!-- 7 Nm badge -->
<rect x="84" y="527.5" width="116" height="66" rx="17" fill="#fff" stroke="#000" stroke-width="2.5"/>
<rect x="91" y="535" width="102.5" height="52" rx="11" fill="#fff200" stroke="#000" stroke-width="2"/>
<text class="t" x="97.6" y="573.3" font-size="36.2" textLength="89.4" lengthAdjust="spacingAndGlyphs">7 Nm</text>

<!-- drop on pad badge -->
<rect x="602.3" y="422.8" width="96.5" height="97" rx="24" fill="#fff" stroke="#000" stroke-width="2.5"/>
<rect x="609" y="429.5" width="83" height="84.5" rx="19" fill="#fff200" stroke="#000" stroke-width="2"/>
<!-- pad -->
<path d="M616,485.5 Q615.5,483.5 618,482.5 L653,469.5 Q655.5,468.8 658,470 L686,485 Q688.5,486.5 688.3,489 L688.3,497 Q688,499.5 685.5,500.5 L649,512.2 Q646,513 643.5,511.5 L617.5,496.5 Q616,495.5 616,493.5 Z" fill="#fff" stroke="#000" stroke-width="1.8" stroke-linejoin="round"/>
<path d="M619.5,485.6 L654.5,472.3 Q655.6,472 656.8,472.6 L684.5,487.2 L646.8,500.8 Q645.5,501.2 644.3,500.5 Z" fill="#000"/>
<path d="M617.5,489.5 L644,504.8 Q645.8,505.6 647.6,505 L687,491.5" fill="none" stroke="#000" stroke-width="0.9"/>
<!-- drop -->
<path d="M651,430.5 C651.3,452 664,456 663.8,470.5 C663.7,479.5 658,485 651,485 C644,485 638.6,479.5 638.8,470.5 C639,456 650.7,452 651,430.5 Z" fill="#000" stroke="#fff" stroke-width="1.6"/>
<path d="M645.2,463.5 C643,469 643.8,476 647.6,479.3" fill="none" stroke="#fff" stroke-width="1.2" stroke-linecap="round"/>

<!-- 8 Nm badge -->
<rect x="593" y="521.5" width="115.5" height="66.5" rx="17" fill="#fff" stroke="#000" stroke-width="2.5"/>
<rect x="600.5" y="529.5" width="101" height="51" rx="11" fill="#fff200" stroke="#000" stroke-width="2"/>
<text class="t" x="606.5" y="567.8" font-size="36.2" textLength="89" lengthAdjust="spacingAndGlyphs">8 Nm</text>
</svg>
</body></html>
